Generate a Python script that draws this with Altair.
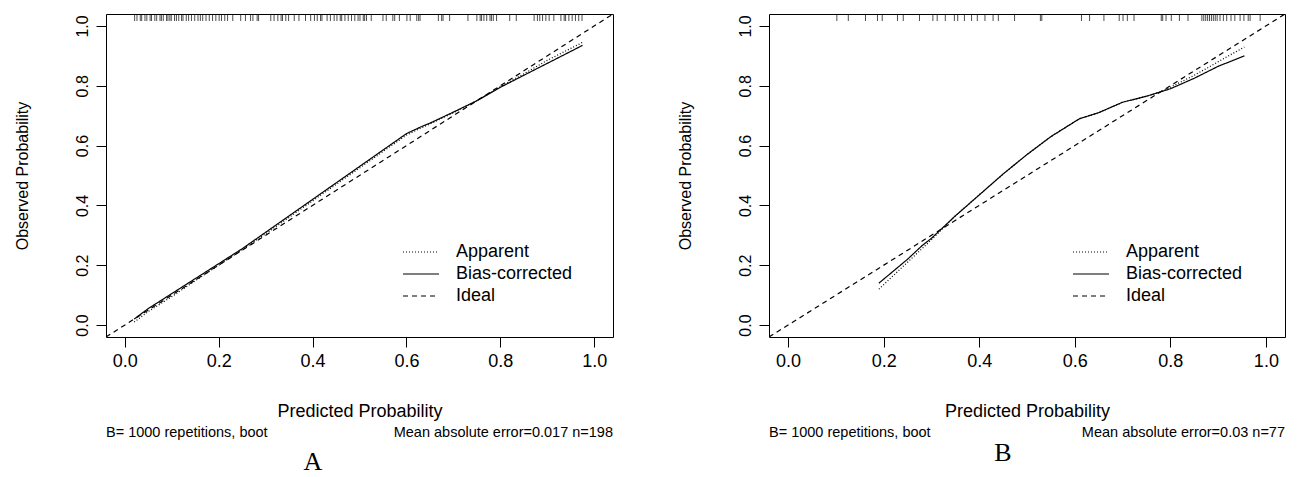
import altair as alt
import pandas as pd

series_names = ["Apparent", "Bias-corrected", "Ideal"]
tick_values = [0.0, 0.2, 0.4, 0.6, 0.8, 1.0]
ideal_pts = [-0.04, 1.04]

# ---- Panel A ----
a_grid = [0.02, 0.05, 0.1, 0.15, 0.2, 0.25, 0.3, 0.35, 0.4, 0.45, 0.5, 0.55, 0.6,
          0.63, 0.65, 0.7, 0.75, 0.8, 0.85, 0.9, 0.95, 0.975]
a_bias = [0.02, 0.055, 0.105, 0.155, 0.205, 0.255, 0.31, 0.365, 0.42, 0.475, 0.53,
          0.585, 0.64, 0.662, 0.675, 0.712, 0.75, 0.795, 0.835, 0.875, 0.915, 0.935]
a_apparent = [0.01, 0.045, 0.095, 0.148, 0.2, 0.252, 0.305, 0.36, 0.415, 0.47, 0.525,
              0.58, 0.635, 0.658, 0.672, 0.71, 0.75, 0.797, 0.84, 0.885, 0.925, 0.945]
a_rug = [0.021, 0.026, 0.033, 0.036, 0.043, 0.047, 0.054, 0.057, 0.064, 0.068, 0.075,
         0.078, 0.082, 0.089, 0.092, 0.096, 0.099, 0.106, 0.110, 0.115, 0.121, 0.124,
         0.131, 0.136, 0.142, 0.149, 0.156, 0.161, 0.166, 0.173, 0.180, 0.187, 0.194,
         0.201, 0.206, 0.213, 0.219, 0.230, 0.247, 0.257, 0.268, 0.273, 0.282, 0.285,
         0.311, 0.318, 0.326, 0.333, 0.336, 0.343, 0.349, 0.361, 0.371, 0.385, 0.396,
         0.404, 0.410, 0.417, 0.420, 0.431, 0.438, 0.446, 0.452, 0.459, 0.462, 0.469,
         0.476, 0.483, 0.490, 0.497, 0.501, 0.508, 0.511, 0.515, 0.525, 0.550, 0.557,
         0.571, 0.575, 0.585, 0.601, 0.608, 0.622, 0.626, 0.629, 0.668, 0.675, 0.678,
         0.692, 0.731, 0.750, 0.757, 0.760, 0.765, 0.771, 0.778, 0.781, 0.785, 0.792,
         0.820, 0.834, 0.872, 0.879, 0.884, 0.890, 0.897, 0.904, 0.914, 0.929, 0.936,
         0.939, 0.946, 0.953, 0.960, 0.967, 0.974]
a_note_left = "B= 1000 repetitions, boot"
a_note_right = "Mean absolute error=0.017 n=198"
a_letter = "A"

# ---- Panel B ----
b_grid = [0.19, 0.22, 0.25, 0.28, 0.3, 0.35, 0.4, 0.45, 0.5, 0.55, 0.61, 0.65,
          0.7, 0.75, 0.78, 0.8, 0.85, 0.9, 0.955]
b_bias = [0.14, 0.18, 0.22, 0.265, 0.29, 0.365, 0.435, 0.505, 0.57, 0.63, 0.69,
          0.71, 0.745, 0.765, 0.78, 0.79, 0.825, 0.865, 0.90]
b_apparent = [0.12, 0.165, 0.21, 0.255, 0.285, 0.365, 0.435, 0.505, 0.57, 0.63, 0.69,
              0.71, 0.745, 0.765, 0.78, 0.795, 0.835, 0.88, 0.93]
b_rug = [0.102, 0.126, 0.162, 0.187, 0.197, 0.229, 0.241, 0.275, 0.303, 0.312, 0.329,
         0.348, 0.355, 0.369, 0.384, 0.396, 0.412, 0.429, 0.440, 0.474, 0.528, 0.531,
         0.614, 0.631, 0.661, 0.693, 0.701, 0.710, 0.724, 0.781, 0.784, 0.791, 0.802,
         0.819, 0.837, 0.866, 0.870, 0.874, 0.878, 0.882, 0.886, 0.890, 0.894, 0.898,
         0.904, 0.911, 0.918, 0.927, 0.935, 0.946, 0.954, 0.963, 0.967, 0.988]
b_note_left = "B= 1000 repetitions, boot"
b_note_right = "Mean absolute error=0.03 n=77"
b_letter = "B"

SANS = "Liberation Sans"
SERIF = "Liberation Serif"
H = 323


def curve_frame(grid, bias, app):
    rows = []
    for x, y in zip(grid, app):
        rows.append({"x": x, "y": y, "series": "Apparent"})
    for x, y in zip(grid, bias):
        rows.append({"x": x, "y": y, "series": "Bias-corrected"})
    for v in ideal_pts:
        rows.append({"x": v, "y": v, "series": "Ideal"})
    return pd.DataFrame(rows)


def make_panel(grid, bias, app, rug, note_l, note_r, letter, w, letter_x, letter_y, legend_x):
    xs = alt.Scale(domain=[-0.04, 1.04], nice=False, zero=False)
    ys = alt.Scale(domain=[-0.04, 1.04], nice=False, zero=False)
    xaxis = alt.Axis(values=tick_values, format=".1f", title="Predicted Probability",
                     grid=False, domain=False, tickSize=10, tickColor="black",
                     labelFont=SANS, labelFontSize=18, labelColor="black", labelPadding=5,
                     labelFlush=False, titleFont=SANS, titleFontSize=18,
                     titleFontWeight="normal", titleColor="black", titlePadding=32)
    yaxis = alt.Axis(values=tick_values, format=".1f", title="Observed Probability",
                     grid=False, domain=False, tickSize=10, tickColor="black",
                     labelAngle=270, labelAlign="center", labelBaseline="bottom",
                     labelFont=SANS, labelFontSize=16, labelColor="black", labelPadding=6,
                     labelFlush=False, titleFont=SANS, titleFontSize=16,
                     titleFontWeight="normal", titleColor="black", titlePadding=44)
    legend = alt.Legend(title=None, orient="none", legendX=legend_x, legendY=228,
                        symbolType="M-2,0L2,0", symbolSize=324, symbolStrokeWidth=1.2,
                        symbolStrokeColor="black", symbolFillColor="transparent",
                        labelFont=SANS, labelFontSize=18,
                        labelColor="black", labelOffset=25, rowPadding=3, padding=0)
    lines = alt.Chart(curve_frame(grid, bias, app)).mark_line(
        color="black", strokeWidth=1.2, clip=True
    ).encode(
        x=alt.X("x:Q", scale=xs, axis=xaxis),
        y=alt.Y("y:Q", scale=ys, axis=yaxis),
        strokeDash=alt.StrokeDash(
            "series:N",
            scale=alt.Scale(domain=series_names, range=[[1, 2], [1, 0], [5, 4]]),
            legend=legend,
        ),
        detail="series:N",
    )
    rug_chart = alt.Chart(pd.DataFrame({"p": rug})).mark_rule(
        color="black", strokeWidth=0.7
    ).encode(x=alt.X("p:Q", scale=xs), y=alt.value(0), y2=alt.value(7))
    left_txt = alt.Chart(pd.DataFrame({"t": [note_l]})).mark_text(
        align="left", baseline="middle", font=SANS, fontSize=14.5, color="black"
    ).encode(x=alt.value(0), y=alt.value(H + 96), text="t:N")
    right_txt = alt.Chart(pd.DataFrame({"t": [note_r]})).mark_text(
        align="right", baseline="middle", font=SANS, fontSize=14.5, color="black"
    ).encode(x=alt.value(w), y=alt.value(H + 96), text="t:N")
    letter_txt = alt.Chart(pd.DataFrame({"t": [letter]})).mark_text(
        align="center", baseline="alphabetic", font=SERIF, fontSize=26, color="black"
    ).encode(x=alt.value(letter_x), y=alt.value(letter_y), text="t:N")
    return alt.layer(lines, rug_chart, left_txt, right_txt, letter_txt).properties(
        width=w, height=H
    )


panel_a = make_panel(a_grid, a_bias, a_apparent, a_rug, a_note_left, a_note_right,
                     a_letter, 507, 207, 456, 305)
panel_b = make_panel(b_grid, b_bias, b_apparent, b_rug, b_note_left, b_note_right,
                     b_letter, 516, 234, 447, 312)

chart = alt.hconcat(panel_a, panel_b, spacing=62).resolve_scale(
    strokeDash="independent", x="independent", y="independent"
).configure_view(stroke="black", strokeWidth=1).properties(
    padding={"left": 5, "top": 5, "right": 5, "bottom": 0},
    background="white",
)

chart.save("out.html", embed_options={"renderer": "svg", "actions": False})
